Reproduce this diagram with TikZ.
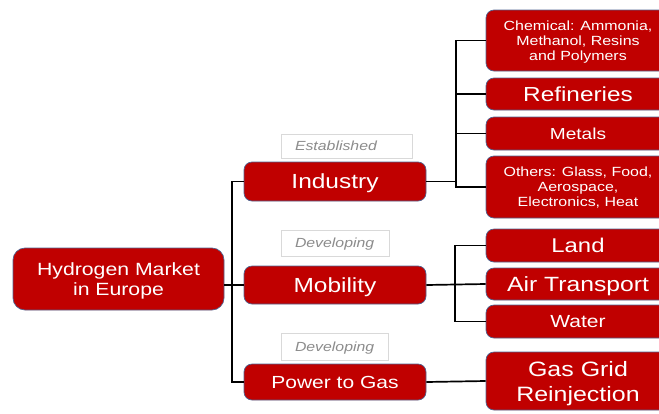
\documentclass[tikz,border=0pt]{standalone}
\usepackage{fontspec}
\usepackage{tikz}
\newfontfamily\boxfont{Liberation Sans}[FakeStretch=1.2]
\definecolor{boxred}{HTML}{C00000}
\definecolor{boxedge}{HTML}{4F6390}
\definecolor{tagedge}{HTML}{D9D9D9}
\definecolor{taggray}{HTML}{8C8C8C}

\begin{document}
\begin{tikzpicture}[x=1pt,y=-1pt,
    rbox/.style={draw=boxedge,line width=0.7pt,fill=boxred,text=white,rounded corners=8pt,
      inner sep=0pt,text depth=0pt,align=center,font=\boxfont},
    tagbox/.style={draw=tagedge,line width=0.6pt,fill=white,text=taggray,inner xsep=14pt,
      inner ysep=0pt,text depth=0pt,align=left,font=\boxfont\itshape\fontsize{13.2}{15}\selectfont},
    link/.style={line width=1.7pt,black}]
  \useasboundingbox (0,0) rectangle (659,413);
  % root and the three branches
  \node[rbox,minimum width=211pt,minimum height=62pt,rounded corners=12pt,
    font=\boxfont\fontsize{17.7}{20}\selectfont] (root) at (118.5,279) {Hydrogen Market\\in Europe};
  \node[rbox,minimum width=182pt,minimum height=39pt,font=\boxfont\fontsize{20.4}{24}\selectfont]
    (ind) at (335,181.5) {Industry};
  \node[rbox,minimum width=182pt,minimum height=38pt,font=\boxfont\fontsize{20.4}{24}\selectfont]
    (mob) at (335,285) {Mobility};
  \node[rbox,minimum width=182pt,minimum height=36pt,font=\boxfont\fontsize{17.5}{21}\selectfont]
    (pwr) at (335,382) {Power to Gas};
  % maturity tags
  \node[tagbox,text width=103pt,minimum height=24pt] (estab) at (346.5,146) {Established};
  \node[tagbox,text width=80pt,minimum height=26pt] (devA) at (335,243) {Developing};
  \node[tagbox,text width=79pt,minimum height=27pt] (devB) at (334.5,346.5) {Developing};
  % industry uses
  \node[rbox,minimum width=184pt,minimum height=61pt,font=\boxfont\fontsize{13.3}{15}\selectfont]
    (chem) at (578,40.5) {Chemical: Ammonia,\\Methanol, Resins\\and Polymers};
  \node[rbox,minimum width=184pt,minimum height=32pt,font=\boxfont\fontsize{20.3}{24}\selectfont]
    (ref) at (578,94) {Refineries};
  \node[rbox,minimum width=184pt,minimum height=33pt,font=\boxfont\fontsize{15.9}{19}\selectfont]
    (met) at (578,133.5) {Metals};
  \node[rbox,minimum width=184pt,minimum height=62pt,font=\boxfont\fontsize{13.3}{15}\selectfont]
    (oth) at (578,187) {Others: Glass, Food,\\Aerospace,\\Electronics, Heat};
  % mobility uses
  \node[rbox,minimum width=184pt,minimum height=33pt,font=\boxfont\fontsize{19.9}{24}\selectfont]
    (land) at (578,245.5) {Land};
  \node[rbox,minimum width=184pt,minimum height=32pt,font=\boxfont\fontsize{20.6}{24}\selectfont]
    (air) at (578,284) {Air Transport};
  \node[rbox,minimum width=184pt,minimum height=33pt,font=\boxfont\fontsize{17.5}{21}\selectfont]
    (wat) at (578,321.5) {Water};
  % power to gas use
  \node[rbox,minimum width=184pt,minimum height=58pt,font=\boxfont\fontsize{20.8}{25}\selectfont]
    (grid) at (578,381) {Gas Grid\\Reinjection};
  % bus lines
  \coordinate (trunk) at (232,0);
  \coordinate (busI) at (456,0);
  \coordinate (busM) at (455,0);
  \draw[link] (ind.west) -- (ind.west -| trunk) |- (pwr.west);
  \draw[link] (root.east |- mob.west) -- (mob.west);
  \draw[link] (ind.east) -- (ind.east -| busI);
  \draw[link] (chem.west) -| (busI |- oth.west) -- (oth.west);
  \draw[link] (ref.west) -- (ref.west -| busI);
  \draw[link] (met.west) -- (met.west -| busI);
  \draw[link] (land.west) -| (busM |- wat.west) -- (wat.west);
  \draw[link] (mob.east) -- (air.west);
  \draw[link] (pwr.east) -- (grid.west);
\end{tikzpicture}
\end{document}
